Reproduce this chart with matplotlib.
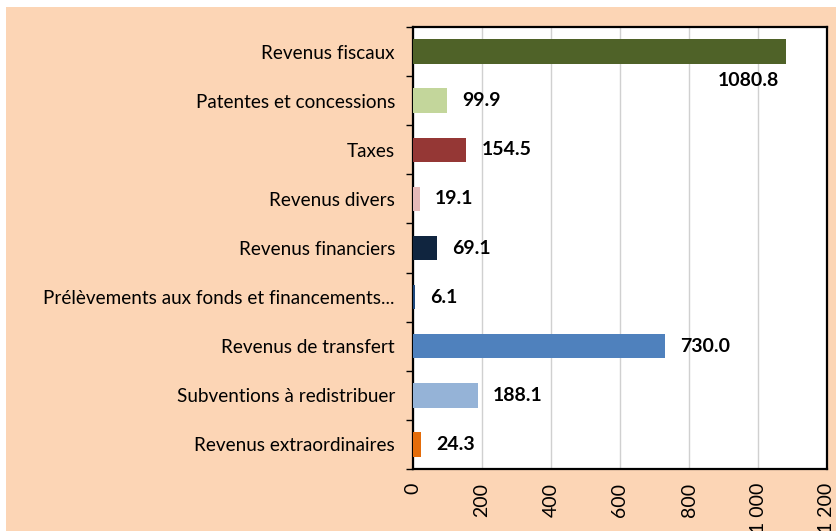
import matplotlib
matplotlib.use("Agg")
from matplotlib import pyplot as plt
from matplotlib.patches import Rectangle
from matplotlib.ticker import FuncFormatter, FixedLocator
import numpy as np

categories = [
    "Revenus fiscaux",
    "Patentes et concessions",
    "Taxes",
    "Revenus divers",
    "Revenus financiers",
    "Prélèvements aux fonds et financements...",
    "Revenus de transfert",
    "Subventions à redistribuer",
    "Revenus extraordinaires",
]
values = [1080.8, 99.9, 154.5, 19.1, 69.1, 6.1, 730.0, 188.1, 24.3]
colors = ["#4F6228", "#C3D69B", "#953735", "#E6B9B8", "#10253F",
          "#1F497D", "#4F81BD", "#95B3D7", "#E46C0A"]
x_ticks = [0, 200, 400, 600, 800, 1000, 1200]

plt.rcParams['font.family'] = ['Lato', 'DejaVu Sans']

fig = plt.figure(figsize=(8.36, 5.31), dpi=100)
fig.patch.set_facecolor("white")
fig.patches.append(Rectangle((6 / 836, 0), 1, 1 - 7 / 531, transform=fig.transFigure,
                             facecolor="#FCD5B5", edgecolor="none", zorder=-10))

ax = fig.add_axes([413 / 836, 1 - 469 / 531, (827 - 413) / 836, (469 - 27) / 531])
ax.set_facecolor("white")

y = np.arange(len(categories))
ax.barh(y, values, height=0.5, color=colors, zorder=3)
ax.set_xlim(0, 1200)
ax.set_ylim(len(categories) - 0.5, -0.5)

for i, v in enumerate(values):
    if v > 1000:
        ax.annotate(f"{v:.1f}", (v, i), xytext=(-5, -21), textcoords="offset points",
                    ha="right", va="center", fontsize=14, fontweight="bold", zorder=4)
    else:
        ax.annotate(f"{v:.1f}", (v, i), xytext=(11, 0), textcoords="offset points",
                    ha="left", va="center", fontsize=14, fontweight="bold", zorder=4)

ax.xaxis.set_major_locator(FixedLocator(x_ticks))
ax.xaxis.set_major_formatter(FuncFormatter(lambda v, p: f"{int(v):,}".replace(",", " ")))
ax.tick_params(axis="x", length=0, labelsize=14, labelrotation=90, pad=10)
ax.grid(axis="x", color="#D0D0D0", linewidth=1, zorder=0)

ax.yaxis.set_major_locator(FixedLocator(np.arange(-0.5, len(categories), 1)))
ax.yaxis.set_minor_locator(FixedLocator(y))
ax.set_yticklabels([], minor=False)
ax.set_yticklabels(categories, minor=True)
ax.tick_params(axis="y", which="major", length=5, width=1, direction="out")
ax.tick_params(axis="y", which="minor", length=0, labelsize=13.6, pad=13)

for s in ax.spines.values():
    s.set_color("black")
    s.set_linewidth(1.6)

fig.savefig("out.png", dpi=100)
